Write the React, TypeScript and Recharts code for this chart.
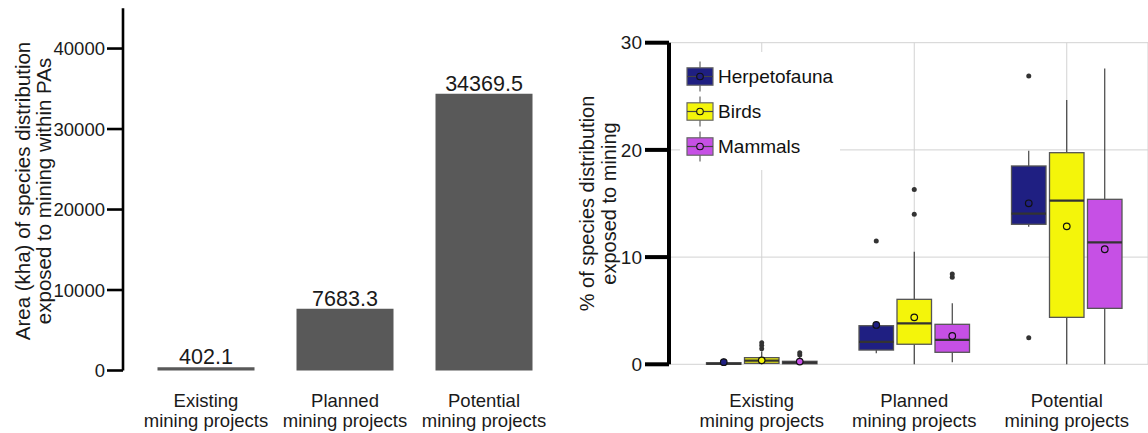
import React from 'react';
import { BarChart, Bar, XAxis, YAxis, LabelList, CartesianGrid } from 'recharts';

const FONT = '"Liberation Sans", Arial, sans-serif';

// ---------- Left panel data ----------
const CATEGORIES = ['Existing', 'Planned', 'Potential'];
const CATEGORY_SUFFIX = 'mining projects';
const AREA_KHA = [402.1, 7683.3, 34369.5];
const AREA_TICKS = [0, 10000, 20000, 30000, 40000];
const AREA_DOMAIN = [0, 45000];

// ---------- Right panel data ----------
const PCT_TICKS = [0, 10, 20, 30];
const PCT_DOMAIN = [0, 30];
const SERIES_NAMES = ['Herpetofauna', 'Birds', 'Mammals'];
const SERIES_KEYS = ['herp', 'birds', 'mammals'];
const SERIES_COLORS = ['#1f1f82', '#f4f50a', '#c650e5'];

type BoxStat = { low: number; q1: number; median: number; q3: number; high: number; mean: number; outliers: number[] };

const herpetofaunaBoxes: BoxStat[] = [
  { low: 0, q1: 0, median: 0.05, q3: 0.15, high: 0.55, mean: 0.2, outliers: [] },
  { low: 1.03, q1: 1.33, median: 2.1, q3: 3.6, high: 3.97, mean: 3.67, outliers: [11.5] },
  { low: 12.84, q1: 13.06, median: 14.05, q3: 18.5, high: 19.93, mean: 15.02, outliers: [26.9, 2.48] },
];
const birdsBoxes: BoxStat[] = [
  { low: 0, q1: 0.09, median: 0.35, q3: 0.62, high: 1.2, mean: 0.37, outliers: [1.45, 1.75, 2.0] },
  { low: 0, q1: 1.87, median: 3.82, q3: 6.06, high: 10.5, mean: 4.38, outliers: [14.0, 16.3] },
  { low: 0, q1: 4.38, median: 15.26, q3: 19.74, high: 24.65, mean: 12.87, outliers: [] },
];
const mammalsBoxes: BoxStat[] = [
  { low: 0, q1: 0.05, median: 0.15, q3: 0.28, high: 0.7, mean: 0.25, outliers: [0.87, 1.08] },
  { low: 0.19, q1: 1.12, median: 2.27, q3: 3.73, high: 5.69, mean: 2.64, outliers: [8.11, 8.42] },
  { low: 0, q1: 5.22, median: 11.38, q3: 15.39, high: 27.6, mean: 10.73, outliers: [] },
];
const SERIES_BOXES = [herpetofaunaBoxes, birdsBoxes, mammalsBoxes];

const areaRows = CATEGORIES.map((c, i) => ({ category: c, area: AREA_KHA[i] }));
const boxRows = CATEGORIES.map((c, i) => {
  const row: any = { category: c };
  SERIES_KEYS.forEach((k, s) => { row[k] = SERIES_BOXES[s][i]; });
  return row;
});

const CategoryTick = (props: any) => {
  const { x, y, payload, dy1, dy2 } = props;
  return (
    <g>
      <text x={x} y={y + dy1} textAnchor="middle" fontSize={18.5} fill="#1a1a1a" fontFamily={FONT}>{payload.value}</text>
      <text x={x} y={y + dy2} textAnchor="middle" fontSize={18.5} fill="#1a1a1a" fontFamily={FONT}>{CATEGORY_SUFFIX}</text>
    </g>
  );
};

const makeBoxShape = (key: string, color: string) => (props: any) => {
  const { x, y, width, height, payload } = props;
  const s: BoxStat = payload[key];
  const k = height / (s.q3 - s.q1);
  const toY = (v: number) => y + height - (v - s.q1) * k;
  const cx = x + width / 2;
  return (
    <g>
      <line x1={cx} x2={cx} y1={toY(s.high)} y2={toY(s.q3)} stroke="#333" strokeWidth={1.1} />
      <line x1={cx} x2={cx} y1={toY(s.q1)} y2={toY(s.low)} stroke="#333" strokeWidth={1.1} />
      <rect x={x} y={toY(s.q3)} width={width} height={Math.max(toY(s.q1) - toY(s.q3), 0.5)} fill={color} stroke="#555" strokeWidth={1.3} />
      <line x1={x} x2={x + width} y1={toY(s.median)} y2={toY(s.median)} stroke="#333" strokeWidth={2.2} />
      {s.outliers.map((o, j) => (
        <circle key={j} cx={cx} cy={toY(o)} r={2.5} fill="#333" />
      ))}
      <circle cx={cx} cy={toY(s.mean)} r={3.3} fill={color} stroke="#111" strokeWidth={1.2} />
    </g>
  );
};

const BoxLegend = () => (
  <svg width={160} height={118} style={{ display: 'block', background: '#fff' }}>
    {SERIES_NAMES.map((n, i) => {
      const cy = 24.5 + i * 35;
      return (
        <g key={n}>
          <line x1={20} x2={20} y1={cy - 15} y2={cy + 15} stroke="#444" strokeWidth={1} />
          <rect x={7} y={cy - 8.7} width={26} height={17.4} fill={SERIES_COLORS[i]} stroke="#666" strokeWidth={1.2} />
          <line x1={7} x2={33} y1={cy} y2={cy} stroke="#444" strokeWidth={1.2} />
          <circle cx={20} cy={cy} r={3.3} fill={SERIES_COLORS[i]} stroke="#111" strokeWidth={1.1} />
          <text x={38} y={cy + 6.8} fontSize={19} fill="#111" fontFamily={FONT}>{n}</text>
        </g>
      );
    })}
  </svg>
);

const LeftYLabel = () => (
  <g>
    <text transform="translate(30,191) rotate(-90)" textAnchor="middle" fontSize={20.5} fill="#1a1a1a" fontFamily={FONT}>Area (kha) of species distribution</text>
    <text transform="translate(51,191) rotate(-90)" textAnchor="middle" fontSize={20.5} fill="#1a1a1a" fontFamily={FONT}>exposed to mining within PAs</text>
  </g>
);

const RightYLabel = () => (
  <g>
    <text transform="translate(20,203.5) rotate(-90)" textAnchor="middle" fontSize={20} fill="#1a1a1a" fontFamily={FONT}>% of species distribution</text>
    <text transform="translate(42,203.5) rotate(-90)" textAnchor="middle" fontSize={20} fill="#1a1a1a" fontFamily={FONT}>exposed to mining</text>
  </g>
);

export default function App() {
  return (
    <div style={{ position: 'fixed', left: 0, top: 0, width: 1148, height: 433, overflow: 'hidden', display: 'flex', background: '#fff', fontFamily: FONT }}>
      <style>{'html,body{margin:0;padding:0;overflow:hidden;}'}</style>
      <BarChart width={574} height={433} data={areaRows} margin={{ top: 8.3, right: 20.5, bottom: 0, left: 0 }} barSize={97}>
        <XAxis dataKey="category" axisLine={false} tickLine={false} tickSize={0} tickMargin={0} height={62.5} interval={0}
          padding={{ left: 13.5, right: 0 }} tick={<CategoryTick dy1={36.2} dy2={56.2} />} />
        <YAxis domain={AREA_DOMAIN} ticks={AREA_TICKS} width={123} interval={0}
          axisLine={{ stroke: '#000', strokeWidth: 2.6 }} tickLine={{ stroke: '#000', strokeWidth: 2.6 }}
          tickSize={16} tickMargin={2} tick={{ fontSize: 18.5, fill: '#1a1a1a', fontFamily: FONT }}
          label={<LeftYLabel />} />
        <Bar dataKey="area" fill="#595959" isAnimationActive={false}>
          <LabelList dataKey="area" position="top" offset={3} fontSize={21.5} fill="#1a1a1a" fontFamily={FONT} />
        </Bar>
      </BarChart>
      <BarChart width={574} height={433} data={boxRows} margin={{ top: 42.7, right: 0, bottom: 0, left: 0 }} barSize={34.5} barGap={3.5}>
        <CartesianGrid stroke="#d2d2d2" strokeWidth={1} />
        <XAxis dataKey="category" axisLine={false} tickLine={false} tickSize={0} tickMargin={0} height={68.7} interval={0}
          padding={{ left: 16.5, right: 5 }} tick={<CategoryTick dy1={42.4} dy2={62.4} />} />
        <YAxis domain={PCT_DOMAIN} ticks={PCT_TICKS} width={95} interval={0}
          axisLine={{ stroke: '#000', strokeWidth: 4 }} tickLine={{ stroke: '#000', strokeWidth: 4 }}
          tickSize={24} tickMargin={3} tick={{ fontSize: 19, fill: '#1a1a1a', fontFamily: FONT }}
          label={<RightYLabel />} />
        {SERIES_KEYS.map((k, i) => (
          <Bar key={k} name={SERIES_NAMES[i]} dataKey={(r: any) => [r[k].q1, r[k].q3]} fill={SERIES_COLORS[i]}
            isAnimationActive={false} shape={makeBoxShape(k, SERIES_COLORS[i])} />
        ))}
      </BarChart>
      <div style={{ position: 'absolute', left: 680, top: 52, width: 160, height: 118 }}>
        <BoxLegend />
      </div>
    </div>
  );
}
